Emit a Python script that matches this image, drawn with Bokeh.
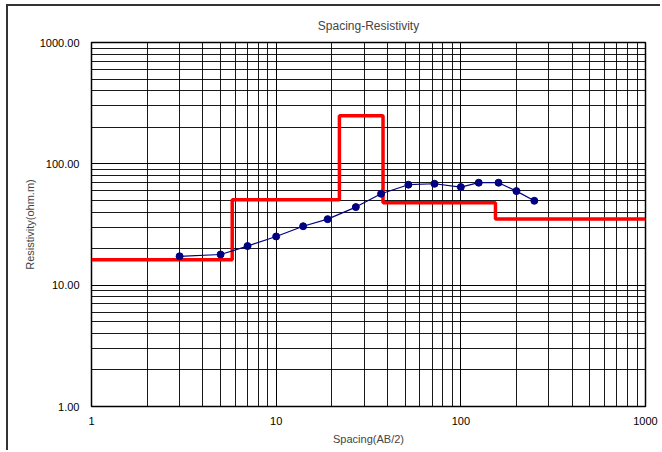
from bokeh.plotting import figure
from bokeh.models import (Range1d, FixedTicker, PrintfTickFormatter, Title,
                          ColumnDataSource)
from bokeh.embed import file_html
from bokeh.resources import INLINE

# ---- data ----
spacing = [3, 5, 7, 10, 14, 19, 27, 37, 52, 72, 100, 125, 160, 200, 250]
resistivity = [17.3, 17.9, 21.0, 25.2, 30.6, 35.0, 44.0, 56.7, 67.3, 68.5,
               64.3, 69.9, 69.9, 59.6, 49.6]
layer_rho = [16.2, 50.6, 249.0, 47.8, 35.1]
layer_bounds = [5.78, 22.0, 37.9, 154.0]
x_min, x_max = 1, 1000
y_min, y_max = 1, 1000
major_ticks = [1, 10, 100, 1000]
minor_ticks = [m * d for d in [1, 10, 100] for m in range(2, 10)]

FONT = "Liberation Sans"
OX, OY = 8, 6  # canvas offset caused by outer border + margin

p = figure(width=662 - OX, height=452 - OY, x_axis_type="log", y_axis_type="log",
           x_range=Range1d(x_min, x_max), y_range=Range1d(y_min, y_max),
           output_backend="svg", toolbar_location=None,
           min_border_left=91 - OX, min_border_right=17,
           min_border_top=42 - OY, min_border_bottom=46)
p.styles = {"margin-left": "6px", "margin-top": "4px",
            "border-left": "2px solid #333333",
            "border-top": "2px solid #333333"}
p.background_fill_color = "white"
p.border_fill_color = "white"
p.outline_line_color = "black"
p.outline_line_width = 1.5

for ax, fmt in ((p.xaxis[0], "%d"), (p.yaxis[0], "%.2f")):
    ax.ticker = FixedTicker(ticks=major_ticks, minor_ticks=minor_ticks)
    ax.formatter = PrintfTickFormatter(format=fmt)
    ax.major_tick_out = 0
    ax.major_tick_in = 0
    ax.minor_tick_out = 0
    ax.minor_tick_in = 0
    ax.axis_line_color = None
    ax.major_label_text_font = FONT
    ax.major_label_text_font_size = "11px"
    ax.major_label_text_color = "black"

p.xaxis.major_label_standoff = 10
p.yaxis.major_label_standoff = 12

for g in (p.xgrid[0], p.ygrid[0]):
    g.ticker = FixedTicker(ticks=major_ticks, minor_ticks=minor_ticks)
    g.grid_line_color = "black"
    g.grid_line_width = 1
    g.minor_grid_line_color = "black"
    g.minor_grid_line_width = 1
    g.minor_grid_line_alpha = 0.9

p.yaxis.axis_label = "Resistivity(ohm.m)"
p.yaxis.axis_label_text_font = FONT
p.yaxis.axis_label_text_font_size = "11px"
p.yaxis.axis_label_text_font_style = "normal"
p.yaxis.axis_label_standoff = 1

p.title.text = "Spacing-Resistivity"
p.title.text_font = FONT
p.title.text_font_size = "12px"
p.title.text_font_style = "normal"
p.title.align = "center"
p.title.offset = -28
p.title.standoff = 20

xt = Title(text="Spacing(AB/2)", align="center", offset=-33,
           text_font=FONT, text_font_size="11px", text_font_style="normal",
           standoff=6)
p.add_layout(xt, "below")

# red step model
step_x = [x_min] + layer_bounds + [x_max]
step_y = layer_rho + [layer_rho[-1]]
p.step(step_x, step_y, mode="after", line_color="#FF0000", line_width=3.5)

# blue measured curve
src = ColumnDataSource(dict(x=spacing, y=resistivity))
p.line("x", "y", source=src, line_color="#000080", line_width=1.2)
p.scatter("x", "y", source=src, size=7, fill_color="#000080",
          line_color="#000080")

open("out.html", "w").write(file_html(p, INLINE))
